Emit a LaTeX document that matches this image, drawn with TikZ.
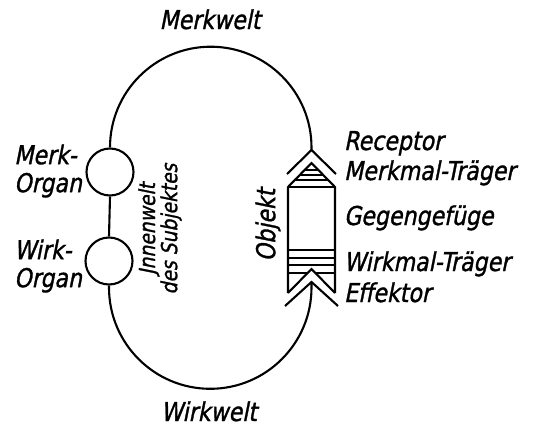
\documentclass[tikz,border=0pt]{standalone}
\usepackage{fontspec}
\setmainfont{DejaVu Sans}[FakeSlant=0.2, FakeStretch=0.85, FakeBold=1.2]
\begin{document}
\begin{tikzpicture}[x=1pt,y=1pt, line width=2.1pt, line join=miter,
  lbl/.style={font=\fontsize{26}{28}\selectfont, inner sep=0pt},
  smalllbl/.style={font=\fontsize{22}{21}\selectfont, inner sep=0pt},
  organ/.style={circle, draw, minimum size=47pt, inner sep=0pt},
  hatch/.style={line width=1.8pt}]
\useasboundingbox (0,0) rectangle (542,-426);

% organs and the loop
\node[organ] (mo) at (110,-172) {};
\node[organ] (wo) at (109,-261) {};
\coordinate (rec) at (311.5,-150);
\coordinate (eff) at (311.5,-282);
\draw (mo.north) arc[start angle=180, end angle=0, radius=100.75pt] -- (rec);
\draw (mo.south) -- (wo.north);
\draw (wo.south) -- ++(0,-2) arc[start angle=180, end angle=360, radius=101.25pt] -- (eff);

% receptor chevron
\draw (287,-174) -- (rec) -- (336,-174);
% object body
\draw (288,-293) -- (288,-187) -- (311.5,-163) -- (335,-187) -- (335,-293);
\draw (288,-187) -- (335,-187);
\draw (288,-250) -- (335,-250);
\draw[hatch] (304.6,-170) -- (318.4,-170);
\draw[hatch] (299.75,-175) -- (323.25,-175);
\draw[hatch] (294.9,-180) -- (328.1,-180);
\draw[hatch] (288,-258) -- (335,-258);
\draw[hatch] (288,-265) -- (335,-265);
\draw[hatch] (288,-273) -- (307.6,-273);
\draw[hatch] (315.4,-273) -- (335,-273);
\draw (288,-293) -- (311.5,-269) -- (335,-293);
% effector chevron
\draw (285,-306) -- (eff) -- (338,-306);

% labels
\node[lbl, anchor=base] (mw) at (210,-29) {Merkwelt};
\node[lbl, anchor=base] (ww) at (209,-421) {Wirkwelt};
\node[lbl, anchor=east, align=left] (mot) at (83,-171) {Merk-\\Organ};
\node[lbl, anchor=east, align=left] (wot) at (83,-266) {Wirk-\\Organ};
\node[lbl, anchor=base west] (t1) at (343,-150) {Receptor};
\node[lbl, anchor=base west] (t2) at (343,-180) {Merkmal-Träger};
\node[lbl, anchor=base west] (t3) at (343,-225) {Gegengefüge};
\node[lbl, anchor=base west] (t4) at (343,-271) {Wirkmal-Träger};
\node[lbl, anchor=base west] (t5) at (343,-302) {Effektor};
\node[lbl, rotate=90] (obj) at (268,-225) {Objekt};
\node[smalllbl, rotate=90, align=center] (iw) at (160,-229) {Jnnenwelt\\des Subjektes};
\end{tikzpicture}
\end{document}
